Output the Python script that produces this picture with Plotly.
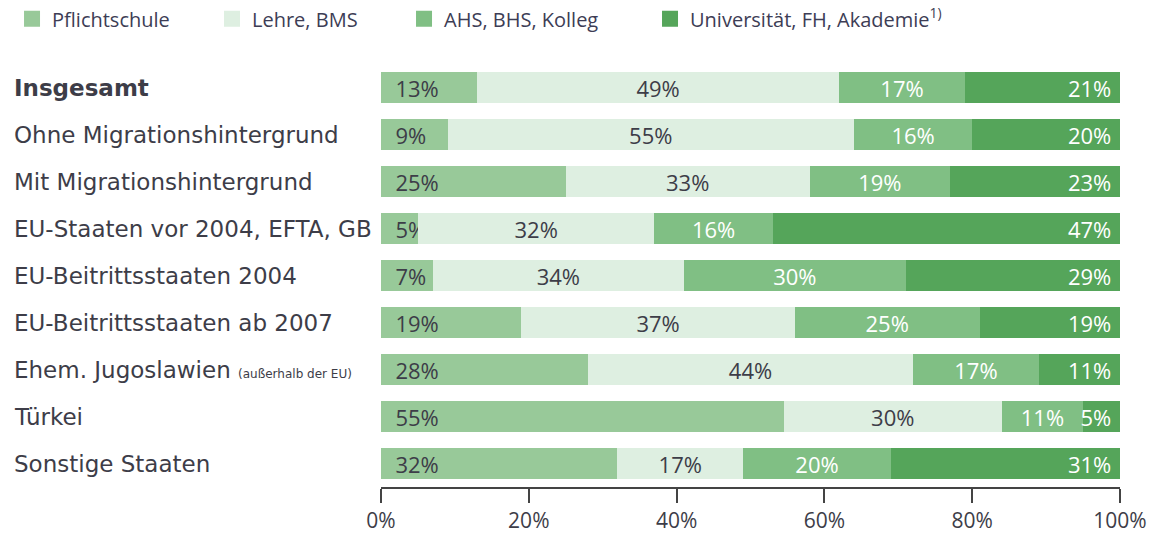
import plotly.graph_objects as go

# --- Daten ---
kategorien = [
    "Insgesamt",
    "Ohne Migrationshintergrund",
    "Mit Migrationshintergrund",
    "EU-Staaten vor 2004, EFTA, GB",
    "EU-Beitrittsstaaten 2004",
    "EU-Beitrittsstaaten ab 2007",
    "Ehem. Jugoslawien",
    "Türkei",
    "Sonstige Staaten",
]
# kleiner Zusatz hinter dem Namen
kategorie_zusatz = ["", "", "", "", "", "", "(außerhalb der EU)", "", ""]

pflichtschule = [13, 9, 25, 5, 7, 19, 28, 54.5, 32]
lehre_bms = [49, 55, 33, 32, 34, 37, 44, 29.5, 17]
ahs_bhs = [17, 16, 19, 16, 30, 25, 17, 11, 20]
universitaet = [21, 20, 23, 47, 29, 19, 11, 5, 31]

legenden_namen = ["Pflichtschule", "Lehre, BMS", "AHS, BHS, Kolleg",
                  "Universität, FH, Akademie<sup>1)</sup>"]

tick_werte = [0, 20, 40, 60, 80, 100]
tick_texte = ["0%", "20%", "40%", "60%", "80%", "100%"]

serien = [
    (pflichtschule, "#98c999", "#3d3d48", "start"),
    (lehre_bms, "#deefe1", "#3d3d48", "middle"),
    (ahs_bhs, "#80bf84", "white", "middle"),
    (universitaet, "#55a55a", "white", "end"),
]

# jede Legende einzeln platzieren (linker Rand, Anteil der Breite)
legenden_x = [0.0104, 0.1834, 0.3495, 0.5623]

TEXT_FONT = "Open Sans, Roboto, sans-serif"
LABEL_FONT = "DejaVu Sans, sans-serif"

fig = go.Figure()

for i, ((werte, farbe, textfarbe, anker), name) in enumerate(zip(serien, legenden_namen)):
    if anker == "start":
        tmpl = "\u00a0\u00a0%{x:.0f}%"
    elif anker == "end":
        tmpl = "%{x:.0f}%\u00a0"
    else:
        tmpl = "%{x:.0f}%"
    fig.add_trace(go.Bar(
        y=kategorien, x=werte, orientation="h",
        name=name, marker=dict(color=farbe, line=dict(width=0)),
        texttemplate=tmpl, textposition="inside", insidetextanchor=anker,
        textfont=dict(color=textfarbe, size=22, family=TEXT_FONT),
        showlegend=False, hoverinfo="skip",
    ))
    # Legendeneintrag mit größerem Quadrat
    leg = "legend" if i == 0 else f"legend{i + 1}"
    fig.add_trace(go.Scatter(
        x=[None], y=[None], mode="markers", name=name, legend=leg,
        marker=dict(symbol="square", size=22, color=farbe),
    ))

# Kategorien linksbündig als Beschriftung
for kat, zusatz in zip(kategorien, kategorie_zusatz):
    txt = f"<b>{kat}</b>" if kat == "Insgesamt" else kat
    if zusatz:
        txt += f" <span style='font-size:12px'>{zusatz}</span>"
    fig.add_annotation(
        x=-0.5, xref="paper", y=kat, yref="y",
        text=txt, showarrow=False, xanchor="left", yanchor="middle",
        font=dict(size=23, color="#3d3d48", family=LABEL_FONT),
    )

legend_style = dict(
    orientation="h", xref="container", xanchor="left",
    yref="container", y=0.965, yanchor="middle",
    font=dict(size=20, color="#3d3d55", family=TEXT_FONT),
    itemclick=False, bgcolor="rgba(0,0,0,0)",
)
legenden = {}
for i, lx in enumerate(legenden_x):
    key = "legend" if i == 0 else f"legend{i + 1}"
    legenden[key] = dict(legend_style, x=lx)

fig.update_layout(
    barmode="stack",
    bargap=0.33,
    width=1156, height=535,
    margin=dict(l=381, r=36, t=64, b=48, autoexpand=False),
    paper_bgcolor="white", plot_bgcolor="white",
    uniformtext=dict(minsize=22, mode="show"),
    xaxis=dict(
        range=[0, 100], tickvals=tick_werte, ticktext=tick_texte,
        showgrid=False, zeroline=False,
        showline=True, linecolor="#444", linewidth=1.5,
        ticks="outside", ticklen=14, tickwidth=1.5, tickcolor="#444",
        tickfont=dict(size=21, color="#3d3d48", family=TEXT_FONT),
        fixedrange=True,
    ),
    yaxis=dict(
        autorange="reversed", showticklabels=False, showgrid=False,
        zeroline=False, fixedrange=True,
    ),
    **legenden,
)

fig.write_html("out.html", config={"displayModeBar": False},
               post_script="document.body.style.margin='0';")
